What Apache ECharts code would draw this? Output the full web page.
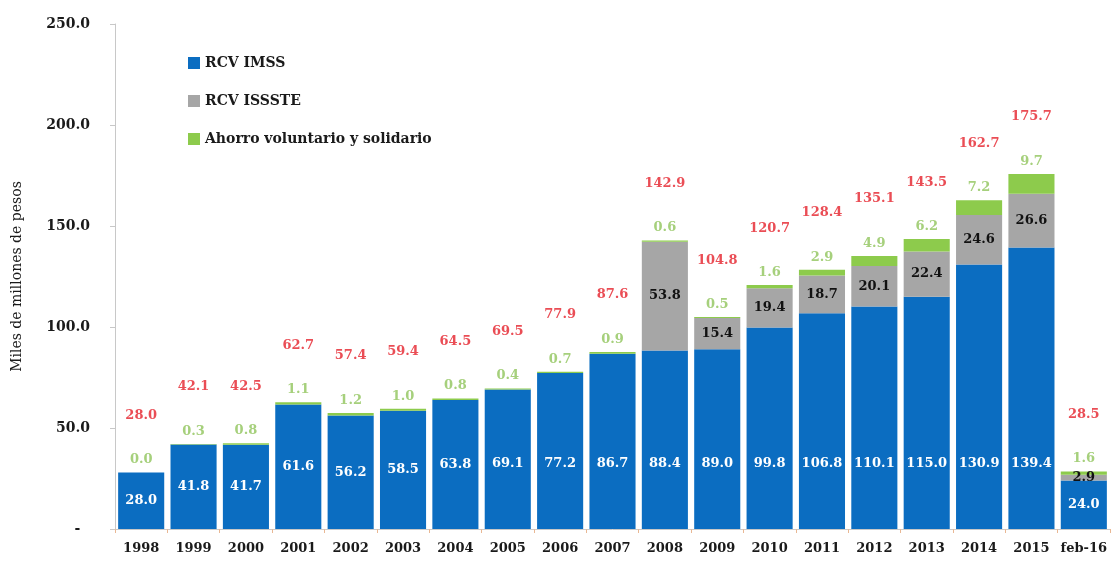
<!DOCTYPE html>
<html>
<head>
<meta charset="utf-8">
<script src="https://cdn.jsdelivr.net/npm/echarts@6/dist/echarts.min.js"></script>
<style>
html,body{margin:0;padding:0;background:#fff;}
#chart{width:1114px;height:564px;}
</style>
</head>
<body>
<div id="chart"></div>
<script>
var categories = ['1998','1999','2000','2001','2002','2003','2004','2005','2006','2007','2008','2009','2010','2011','2012','2013','2014','2015','feb-16'];
var rcvImss = [28.0,41.8,41.7,61.6,56.2,58.5,63.8,69.1,77.2,86.7,88.4,89.0,99.8,106.8,110.1,115.0,130.9,139.4,24.0];
var rcvIssste = [null,null,null,null,null,null,null,null,null,null,53.8,15.4,19.4,18.7,20.1,22.4,24.6,26.6,2.9];
var ahorroVol = [0.0,0.3,0.8,1.1,1.2,1.0,0.8,0.4,0.7,0.9,0.6,0.5,1.6,2.9,4.9,6.2,7.2,9.7,1.6];
var totals = [28.0,42.1,42.5,62.7,57.4,59.4,64.5,69.5,77.9,87.6,142.9,104.8,120.7,128.4,135.1,143.5,162.7,175.7,28.5];
var yTicks = [0,50,100,150,200,250];

var SERIF = '"DejaVu Serif","Liberation Serif",serif';
var chart = echarts.init(document.getElementById('chart'));

var imssData = rcvImss.map(function (v) {
  var pct = 100 * (1 - Math.min(0.5, 32.5 / v));
  return { value: v, label: { position: ['50%', pct + '%'] } };
});

chart.setOption({
  animation: false,
  backgroundColor: '#fff',
  grid: { left: 115, right: 4, top: 24, bottom: 35, containLabel: false },
  legend: {
    data: ['RCV IMSS', 'RCV ISSSTE', 'Ahorro voluntario y solidario'],
    orient: 'vertical',
    left: 183,
    top: 51,
    icon: 'rect',
    itemWidth: 12,
    itemHeight: 12,
    itemGap: 24,
    textStyle: { fontFamily: SERIF, fontSize: 14, fontWeight: 'bold', color: '#1a1a1a', padding: [0, 0, 8, 0] }
  },
  xAxis: {
    type: 'category',
    data: categories,
    axisLine: { lineStyle: { color: '#c8c8c8' } },
    axisTick: { show: true, alignWithLabel: false, length: 4, lineStyle: { color: '#e9b894' } },
    axisLabel: { interval: 0, fontFamily: SERIF, fontSize: 13, fontWeight: 'bold', color: '#1a1a1a', margin: 13 }
  },
  yAxis: {
    type: 'value',
    min: 0,
    max: 250,
    interval: 50,
    name: 'Miles de millones de pesos',
    nameLocation: 'middle',
    nameGap: 91,
    nameRotate: 90,
    nameTextStyle: { fontFamily: SERIF, fontSize: 14, color: '#1a1a1a' },
    axisLine: { show: true, lineStyle: { color: '#c8c8c8' } },
    axisTick: { show: true, length: 5, lineStyle: { color: '#c8c8c8' } },
    splitLine: { show: false },
    axisLabel: {
      fontFamily: SERIF, fontSize: 14, fontWeight: 'bold', color: '#1a1a1a', margin: 25,
      formatter: function (v) { return v === 0 ? '-  ' : v.toFixed(1); }
    }
  },
  series: [
    {
      name: 'RCV IMSS', type: 'bar', stack: 'a', barCategoryGap: '12%',
      itemStyle: { color: '#0B6DC1' },
      label: {
        show: true, align: 'center', verticalAlign: 'middle',
        color: '#ffffff', fontFamily: SERIF, fontSize: 13, fontWeight: 'bold',
        formatter: function (p) { return Number(p.value).toFixed(1); }
      },
      data: imssData
    },
    {
      name: 'RCV ISSSTE', type: 'bar', stack: 'a',
      itemStyle: { color: '#A6A6A6' },
      label: {
        show: true, position: 'inside',
        color: '#111111', fontFamily: SERIF, fontSize: 13, fontWeight: 'bold',
        formatter: function (p) { return p.value == null ? '' : Number(p.value).toFixed(1); }
      },
      data: rcvIssste
    },
    {
      name: 'Ahorro voluntario y solidario', type: 'bar', stack: 'a',
      itemStyle: { color: '#8DCB4C' },
      label: {
        show: true, position: 'top', distance: 6,
        color: '#A6D07C', fontFamily: SERIF, fontSize: 13, fontWeight: 'bold',
        formatter: function (p) { return Number(p.value).toFixed(1); }
      },
      data: ahorroVol
    },
    {
      name: 'Total', type: 'scatter', data: totals,
      symbolSize: 1, itemStyle: { color: 'rgba(0,0,0,0)' }, silent: true,
      label: {
        show: true, position: 'top', distance: 50,
        color: '#E5202A', fontFamily: SERIF, fontSize: 13, fontWeight: 'bold',
        formatter: function (p) { return Number(p.value).toFixed(1); }
      }
    }
  ]
});
</script>
</body>
</html>
